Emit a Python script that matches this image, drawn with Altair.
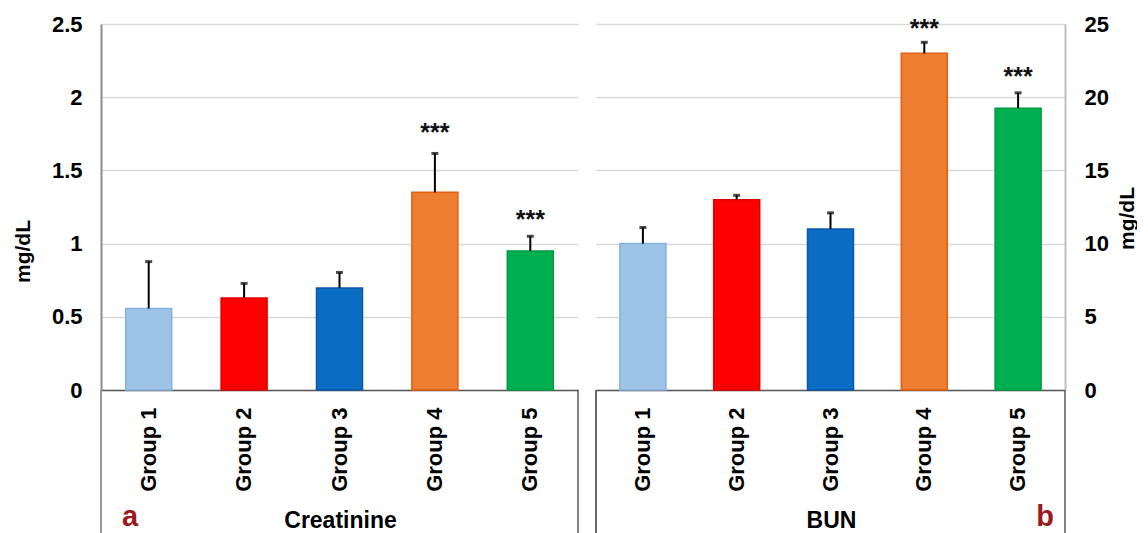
import altair as alt
import pandas as pd

FONT = "Liberation Sans"

groups = ["Group 1", "Group 2", "Group 3", "Group 4", "Group 5"]
fill_colors = ["#9DC3E6", "#FF0000", "#0B6CC4", "#ED7D31", "#00B050"]
edge_colors = ["#86B2DD", "#E00000", "#0A58A8", "#E0620F", "#009A40"]

creat_mean = [0.557, 0.628, 0.697, 1.35, 0.95]
creat_sd = [0.32, 0.10, 0.106, 0.266, 0.10]
creat_star_y = [None, None, None, 1.795, 1.205]

bun_mean = [10.0, 13.0, 11.0, 23.0, 19.25]
bun_sd = [1.1, 0.3, 1.1, 0.75, 1.05]
bun_star_y = [None, None, None, 25.1, 21.8]

stars = ["", "", "", "***", "***"]
creat_ticks = [0, 0.5, 1, 1.5, 2, 2.5]
bun_ticks = [0, 5, 10, 15, 20, 25]

H = 366


def panel(means, sds, star_y, ticks, ymax, orient, width, title_x, title_y,
          name, letter, letter_x, left_line_color, right_line_color, domain_color):
    df = pd.DataFrame({
        "group": groups,
        "mean": means,
        "top": [m + s for m, s in zip(means, sds)],
    })
    sdf = pd.DataFrame({"group": groups, "star": stars, "star_y": star_y}).dropna()

    x = alt.X(
        "group:N", sort=groups,
        scale=alt.Scale(paddingInner=0, paddingOuter=0),
        axis=alt.Axis(
            title=None, labelAngle=-90, labelAlign="right", labelBaseline="middle",
            labelFontSize=22, labelFontWeight="bold", labelFont=FONT,
            labelColor="black", labelPadding=17, ticks=False,
            domainColor="#595959", domainWidth=1.5,
        ),
    )
    yscale = alt.Scale(domain=[0, ymax], nice=False, zero=True)
    yaxis = alt.Axis(
        orient=orient, values=ticks, format="~g", title="mg/dL",
        grid=True, gridColor="#D9D9D9", gridWidth=1.5,
        domain=True, domainColor=domain_color, domainWidth=2,
        ticks=False, labelPadding=19,
        labelFontSize=22, labelFontWeight="bold", labelFont=FONT, labelColor="black",
        titleFontSize=21, titleFontWeight="bold", titleFont=FONT, titleColor="black",
        titleAngle=270, titleAlign="center", titleBaseline="middle",
        titleX=title_x, titleY=title_y,
    )

    def Y(field):
        return alt.Y(field, scale=yscale, axis=yaxis, title="mg/dL")

    bars = alt.Chart(df).mark_bar(size=46, strokeWidth=1.5).encode(
        x=x,
        y=Y("mean:Q"),
        color=alt.Color("group:N", scale=alt.Scale(domain=groups, range=fill_colors), legend=None),
        stroke=alt.Stroke("group:N", scale=alt.Scale(domain=groups, range=edge_colors), legend=None),
    )
    err = alt.Chart(df).mark_rule(color="black", strokeWidth=2).encode(
        x=x,
        y=Y("mean:Q"),
        y2="top:Q",
    )
    cap = alt.Chart(df).mark_tick(color="black", thickness=3, size=7).encode(
        x=x,
        y=Y("top:Q"),
    )
    star_txt = alt.Chart(sdf).mark_text(
        font=FONT, fontSize=25, fontWeight="bold", color="#111111",
        baseline="middle", dy=6,
    ).encode(
        x=x,
        y=Y("star_y:Q"),
        text="star:N",
    )
    one = pd.DataFrame({"k": [0]})
    left_line = alt.Chart(one).mark_rule(color=left_line_color, strokeWidth=1.8).encode(
        x=alt.value(0), y=alt.value(H), y2=alt.value(H + 150)
    )
    right_line = alt.Chart(one).mark_rule(color=right_line_color, strokeWidth=1.5).encode(
        x=alt.value(width), y=alt.value(H), y2=alt.value(H + 150)
    )
    name_txt = alt.Chart(one).mark_text(
        font=FONT, fontSize=23, fontWeight="bold", color="black", baseline="middle"
    ).encode(x=alt.value(width / 2 + 1), y=alt.value(H + 131), text=alt.value(name))
    letter_txt = alt.Chart(one).mark_text(
        font=FONT, fontSize=29, fontWeight="bold", color="#9B1B20", baseline="middle"
    ).encode(x=alt.value(letter_x), y=alt.value(H + 127), text=alt.value(letter))

    return alt.layer(bars, err, cap, star_txt, left_line, right_line, name_txt, letter_txt).properties(
        width=width, height=H
    )


left = panel(creat_mean, creat_sd, creat_star_y, creat_ticks, 2.5, "left", 477,
             -78, 227, "Creatinine", "a", 29, "#8C8C8C", "#595959", "#8C8C8C")
right = panel(bun_mean, bun_sd, bun_star_y, bun_ticks, 25, "right", 469,
              62, 194, "BUN", "b", 449, "#595959", "#595959", "#BFBFBF")

chart = alt.hconcat(left, right, spacing=16).configure_view(stroke=None).properties(
    padding={"left": 4, "top": 5, "right": 0, "bottom": 0},
    background="white",
)

chart.save("out.html", embed_options={"renderer": "svg", "actions": False})
